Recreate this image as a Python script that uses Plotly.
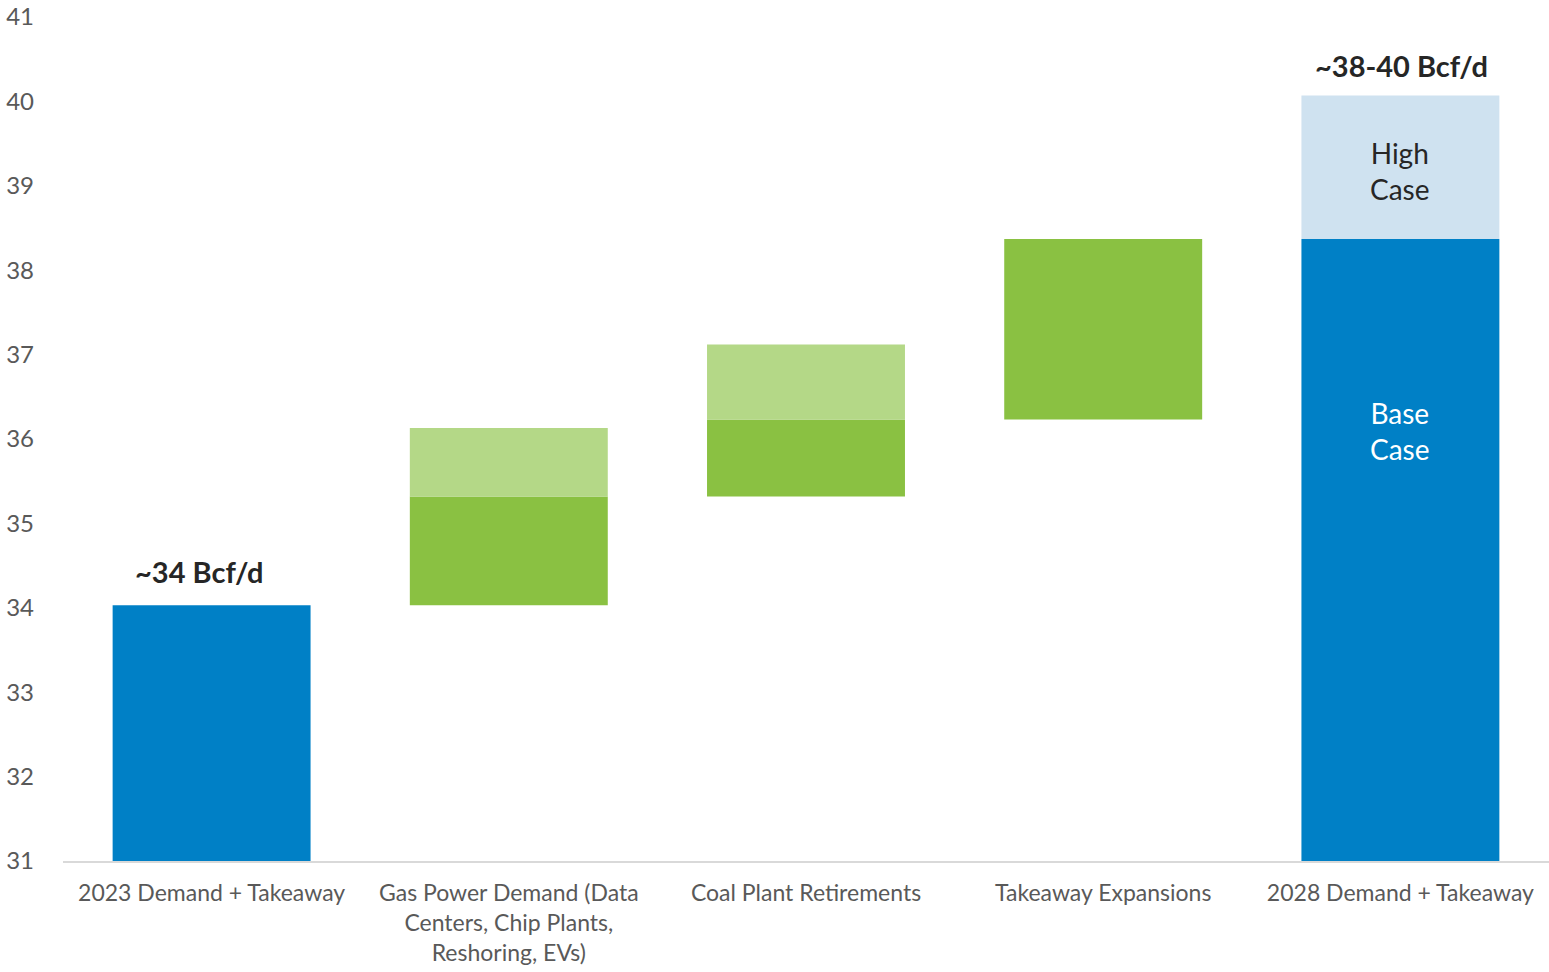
import numpy as np
import plotly.graph_objects as go

# Bridge from 2023 to 2028 gas demand + takeaway (Bcf/d)
categories = [
    "2023 Demand + Takeaway",
    "Gas Power Demand (Data<br>Centers, Chip Plants,<br>Reshoring, EVs)",
    "Coal Plant Retirements",
    "Takeaway Expansions",
    "2028 Demand + Takeaway",
]
start_value = 34.03                     # 2023 demand + takeaway
driver_base = [1.29, 0.91, 2.14]        # base-case increments per driver
driver_high = [0.81, 0.89, 0.0]         # extra increments in the high case
y_ticks = list(range(31, 42))

start_label = "~34 Bcf/d"
end_label = "~38-40 Bcf/d"

BLUE = "#0080C6"
GREEN = "#8AC142"
LIGHT_GREEN = "#B4D887"
LIGHT_BLUE = "#CFE2F0"
TICK_GREY = "#595959"
TEXT_DARK = "#262626"
FONT = "Lato"

# Base-case walk: each driver starts where the previous base step ended
driver_starts = list(start_value + np.concatenate([[0.0], np.cumsum(driver_base)[:-1]]))
end_base = start_value + float(np.sum(driver_base))
high_extra = float(np.sum(driver_high))
end_high = end_base + high_extra

drivers = categories[1:4]
high_x = [c for c, h in zip(drivers, driver_high) if h > 0]
high_y = [h for h in driver_high if h > 0]
high_base = [s + b for s, b, h in zip(driver_starts, driver_base, driver_high) if h > 0]

fig = go.Figure()

# Totals (2023 and 2028 base case)
fig.add_trace(go.Bar(
    x=[categories[0], categories[4]],
    y=[start_value, end_base],
    marker=dict(color=BLUE, line=dict(width=0)),
    hoverinfo="skip",
))
# Base-case increments
fig.add_trace(go.Bar(
    x=drivers,
    y=driver_base,
    base=driver_starts,
    marker=dict(color=GREEN, line=dict(width=0)),
    hoverinfo="skip",
))
# High-case increments stacked on the base-case steps
fig.add_trace(go.Bar(
    x=high_x,
    y=high_y,
    base=high_base,
    marker=dict(color=LIGHT_GREEN, line=dict(width=0)),
    hoverinfo="skip",
))
# 2028 high-case range
fig.add_trace(go.Bar(
    x=[categories[4]],
    y=[high_extra],
    base=[end_base],
    marker=dict(color=LIGHT_BLUE, line=dict(width=0)),
    hoverinfo="skip",
))

annotations = [
    dict(x=categories[0], y=start_value, text=f"<b>{start_label}</b>",
         showarrow=False, xref="x", yref="y", yanchor="middle", xshift=-13, yshift=34,
         font=dict(family=FONT, size=29, color=TEXT_DARK)),
    dict(x=categories[4], y=end_high, text=f"<b>{end_label}</b>",
         showarrow=False, xref="x", yref="y", yanchor="middle", xshift=1, yshift=30,
         font=dict(family=FONT, size=29, color=TEXT_DARK)),
    dict(x=categories[4], y=(end_base + end_high) / 2, text="High<br>Case",
         showarrow=False, xref="x", yref="y", yanchor="middle", yshift=-4,
         font=dict(family=FONT, size=28, color=TEXT_DARK)),
    dict(x=categories[4], y=36.1, text="Base<br>Case",
         showarrow=False, xref="x", yref="y", yanchor="middle",
         font=dict(family=FONT, size=28, color="white")),
]

fig.update_layout(
    width=1549,
    height=972,
    margin=dict(l=63, r=0, t=17, b=111),
    paper_bgcolor="white",
    plot_bgcolor="white",
    barmode="overlay",
    bargap=0.334,
    showlegend=False,
    font=dict(family=FONT, color=TICK_GREY),
    annotations=annotations,
)
fig.update_xaxes(
    categoryorder="array",
    categoryarray=categories,
    showgrid=False,
    showline=True,
    linecolor="#D9D9D9",
    linewidth=1.5,
    ticks="",
    ticklabelstandoff=11,
    tickfont=dict(family=FONT, size=23, color=TICK_GREY),
    zeroline=False,
)
fig.update_yaxes(
    range=[31, 41],
    tickvals=y_ticks,
    showgrid=False,
    showline=False,
    zeroline=False,
    ticks="",
    ticklabelstandoff=28,
    tickfont=dict(family=FONT, size=24, color=TICK_GREY),
)

fig.write_html("out.html")
